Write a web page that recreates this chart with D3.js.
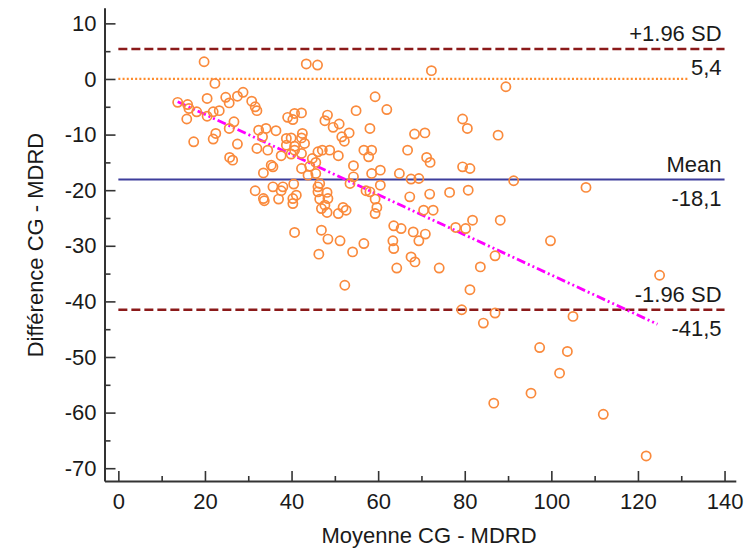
<!DOCTYPE html>
<html><head><meta charset="utf-8">
<script src="https://cdn.jsdelivr.net/npm/d3@7"></script>
<style>
body{margin:0;background:#fff}
svg{display:block}
text{font-family:"Liberation Sans",Arial,sans-serif;fill:#1a1a1a}
</style>
</head><body>
<svg id="c" width="745" height="554"></svg>
<script>
// Moyenne CG - MDRD (x) and Différence CG - MDRD (y)
const meanVals = [
19.8,22.3,13.7,16.0,16.3,18.1,15.8,20.5,20.5,21.9,23.3,24.8,25.6,27.5,28.8,26.7,25.6,17.4,22.5,21.9,27.5,25.7,26.4,30.8,31.6,32.0,32.4,32.0,
43.4,46.0,39.1,40.7,42.3,40.3,48.3,47.7,54.9,59.3,62.0,58.1,49.6,51.0,53.3,51.6,52.2,34.1,33.3,36.4,34.5,38.8,39.9,42.3,42.5,38.8,40.7,43.0,37.6,39.9,42.3,40.7,35.3,35.7,33.5,42.3,44.2,45.6,46.1,47.1,48.8,44.8,50.8,54.3,56.7,58.5,57.8,58.5,60.5,54.3,45.6,43.8,
53.5,35.7,38.0,40.5,31.6,33.5,33.7,37.6,37.0,40.3,41.1,40.3,46.1,46.5,46.1,48.2,48.4,46.5,46.9,47.7,48.2,50.8,51.9,52.6,57.2,58.1,59.3,59.3,59.7,60.5,40.7,46.9,48.4,51.2,46.3,54.1,56.7,52.3,63.6,63.4,63.6,64.3,
72.3,89.5,79.5,80.6,68.4,70.8,87.7,66.8,71.2,72.0,64.9,67.6,69.4,79.5,81.2,91.3,
67.3,71.9,76.5,80.8,70.5,72.7,65.3,68.1,70.9,69.4,77.9,80.2,81.8,88.2,67.6,68.5,74.1,83.6,87.0,99.8,81.2,79.3,87.0,84.3,
97.3,95.3,86.7,125.0,105.0,103.7,101.9,112.0,121.9,108.0
];
const diffVals = [
3.1,-0.8,-4.2,-4.6,-5.3,-5.9,-7.2,-3.5,-6.7,-5.9,-5.7,-3.3,-4.3,-3.1,-2.4,-7.7,-8.9,-11.3,-9.8,-10.8,-11.7,-14.1,-14.6,-4.0,-5.0,-5.7,-9.2,-12.5,
2.7,2.5,-6.9,-6.2,-6.1,-7.3,-6.5,-7.5,-5.7,-3.2,-5.5,-8.9,-8.7,-8.1,-9.7,-10.4,-11.2,-8.9,-10.4,-9.3,-12.8,-10.7,-10.6,-10.6,-9.8,-11.9,-12.1,-11.6,-13.8,-13.5,-13.4,-12.8,-15.5,-15.8,-16.9,-16.1,-15.7,-15.0,-13.1,-12.8,-12.8,-14.3,-13.8,-15.6,-12.8,-12.8,-14.0,-17.0,-16.4,-17.6,-17.0,-17.3,
-18.8,-19.4,-19.4,-18.9,-20.1,-21.5,-21.9,-20.1,-21.6,-21.5,-20.9,-22.4,-19.4,-18.8,-20.3,-20.4,-21.5,-21.6,-23.3,-22.7,-24.0,-24.2,-23.1,-23.6,-20.1,-20.3,-21.6,-24.2,-23.1,-19.1,-27.6,-27.2,-28.8,-29.1,-31.5,-31.1,-29.6,-37.1,-26.4,-29.1,-30.5,-34.0,
1.5,-1.4,-7.2,-8.9,-9.9,-9.7,-10.1,-12.8,-14.1,-15.0,-17.0,-18.0,-17.9,-15.8,-16.1,-18.3,
-21.2,-20.7,-20.4,-20.0,-23.6,-23.6,-26.9,-27.5,-27.9,-29.1,-26.7,-26.9,-25.4,-25.4,-32.0,-32.9,-34.0,-33.8,-31.8,-29.1,-37.9,-41.5,-42.1,-43.9,
-48.3,-56.5,-58.3,-35.3,-42.7,-49.0,-52.9,-60.3,-67.8,-19.5
];
const xTicks = [0,20,40,60,80,100,120,140];
const xMinorTicks = [10,30,50,70,90,110,130];
const yTicks = [10,0,-10,-20,-30,-40,-50,-60,-70];
const yMinorTicks = [5,-5,-15,-25,-35,-45,-55,-65];
const limitValues = [5.4,-18.1,-41.5];
const limitNames = ["+1.96 SD","Mean","-1.96 SD"];
const limitLabels = ["5,4","-18,1","-41,5"];
const equalityValue = 0;
const lineStart = 0, lineEnd = 140;
const regX = [13.7,124.5];
const regY = [-4.1,-44.1];
const xTitle = "Moyenne CG - MDRD";
const yTitle = "Différence CG - MDRD";

const svg = d3.select("#c");
const x = d3.scaleLinear().domain([-3.2,142.6]).range([104.5,735.8]);
const y = d3.scaleLinear().domain([-72.3,12.8]).range([481,7.8]);
const FS = 22;
const fmt = d => String(d);

// reference lines
const lineStyle = [
  {stroke:"#8b1a1a", dash:"9,4", w:2.4},
  {stroke:"#3d3d9c", dash:null, w:2},
  {stroke:"#8b1a1a", dash:"9,4", w:2.4}
];
const gL = svg.append("g");
limitValues.forEach((v,i)=>{
  const s = lineStyle[i];
  gL.append("line").attr("x1",x(lineStart)).attr("x2",x(lineEnd))
    .attr("y1",y(v)).attr("y2",y(v))
    .attr("stroke",s.stroke).attr("stroke-width",s.w)
    .attr("stroke-dasharray",s.dash);
  gL.append("text").attr("x",x(lineEnd)-3).attr("y",y(v)-8)
    .attr("text-anchor","end").attr("font-size",FS).text(limitNames[i]);
  gL.append("text").attr("x",x(lineEnd)-3).attr("y",y(v)+26)
    .attr("text-anchor","end").attr("font-size",FS).text(limitLabels[i]);
});
// zero (equality) dotted line, stops just before the top value label
const topLabelLeft = gL.selectAll("text").nodes()[1].getBBox().x;
gL.append("line").attr("x1",x(lineStart)).attr("x2",topLabelLeft-3)
  .attr("y1",y(equalityValue)).attr("y2",y(equalityValue))
  .attr("stroke","#ff8a2a").attr("stroke-width",2.3).attr("stroke-dasharray","2,2.2");

// regression line
svg.append("line").attr("x1",x(regX[0])).attr("y1",y(regY[0]))
  .attr("x2",x(regX[1])).attr("y2",y(regY[1]))
  .attr("stroke","#ff00ff").attr("stroke-width",2.8)
  .attr("stroke-dasharray","9,3,2,3,2,3");

// points
svg.append("g").selectAll("circle").data(meanVals).join("circle")
  .attr("cx",(d)=>x(d)).attr("cy",(d,i)=>y(diffVals[i]))
  .attr("r",4.6).attr("fill","none").attr("stroke","#fa8a3c").attr("stroke-width",1.7);

// axes
svg.append("g").attr("transform","translate(0,481)").attr("color","#333")
  .call(d3.axisBottom(x).tickValues(xTicks).tickFormat(fmt).tickSize(-10).tickSizeOuter(0).tickPadding(12));
svg.append("g").attr("transform","translate(0,481)").attr("color","#333")
  .call(d3.axisBottom(x).tickValues(xMinorTicks).tickSize(-5).tickSizeOuter(0).tickFormat(""))
  .select(".domain").remove();
svg.append("g").attr("transform","translate(104.5,0)").attr("color","#333")
  .call(d3.axisLeft(y).tickValues(yTicks).tickFormat(fmt).tickSize(-11).tickSizeOuter(0).tickPadding(8));
svg.append("g").attr("transform","translate(104.5,0)").attr("color","#333")
  .call(d3.axisLeft(y).tickValues(yMinorTicks).tickSize(-6).tickSizeOuter(0).tickFormat(""))
  .select(".domain").remove();
svg.selectAll(".domain").attr("stroke-width",2);
svg.selectAll(".tick line").attr("stroke-width",1.6);
svg.selectAll(".tick text").attr("font-size",FS).attr("font-family","Liberation Sans, Arial, sans-serif").attr("fill","#1a1a1a");

// titles
svg.append("text").attr("x",429).attr("y",543).attr("text-anchor","middle")
  .attr("font-size",FS).text(xTitle);
svg.append("text").attr("transform","translate(43,245) rotate(-90)")
  .attr("text-anchor","middle").attr("font-size",FS).text(yTitle);
</script>
</body></html>
